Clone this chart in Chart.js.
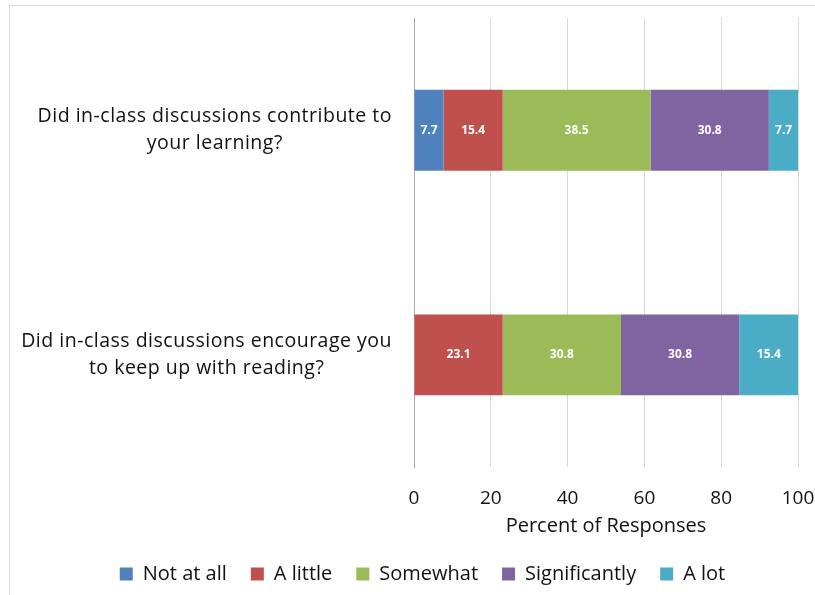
<!DOCTYPE html>
<html>
<head>
<meta charset="utf-8">
<script src="https://cdn.jsdelivr.net/npm/chart.js@4/dist/chart.umd.min.js"></script>
<style>
  html, body { margin: 0; padding: 0; background: #fff; overflow: hidden; }
  #wrap { position: relative; width: 815px; height: 595px; }
  #frame { position: absolute; left: 9px; top: 5px; width: 900px; height: 700px; border: 1px solid #d9d9d9; box-sizing: border-box; pointer-events: none; }
  canvas { position: absolute; left: 0; top: 0; }
</style>
</head>
<body>
<div id="wrap">
  <canvas id="chart" width="815" height="595"></canvas>
  <div id="frame"></div>
</div>
<script>
// Survey questions (each split into its display lines)
const questions = [
  ["Did in-class discussions contribute to", "your learning?"],
  ["Did in-class discussions encourage you", "to keep up with reading?"]
];

// Response levels and their colours
const levels = ["Not at all", "A little", "Somewhat", "Significantly", "A lot"];
const levelColors = ["#4F81BD", "#C0504D", "#9BBB59", "#8064A2", "#4BACC6"];

// Percent of responses per level, one value per question
const notAtAll      = [7.7, 0];
const aLittle       = [15.4, 23.1];
const somewhat      = [38.5, 30.8];
const significantly = [30.8, 30.8];
const aLot          = [7.7, 15.4];

// Axis ticks for the percent scale
const percentTicks = [0, 20, 40, 60, 80, 100];

const seriesValues = [notAtAll, aLittle, somewhat, significantly, aLot];
const FONT = "'Open Sans', sans-serif";
const TEXT = "#111111";

// Multi-line question labels: lines centred within a right-aligned block
const questionLabels = {
  id: "questionLabels",
  afterDraw(chart) {
    const y = chart.scales.y;
    const ctx = chart.ctx;
    const rightEdge = chart.chartArea.left - 22;
    const lineH = 27;
    ctx.save();
    ctx.font = "19.5px " + FONT;
    if ("letterSpacing" in ctx) ctx.letterSpacing = "0.5px";
    ctx.fillStyle = TEXT;
    ctx.textAlign = "center";
    ctx.textBaseline = "middle";
    questions.forEach((lines, i) => {
      const cy = y.getPixelForValue(i);
      const widest = Math.max(...lines.map(l => ctx.measureText(l).width));
      const cx = rightEdge - widest / 2;
      lines.forEach((line, k) => {
        ctx.fillText(line, cx, cy + (k - (lines.length - 1) / 2) * lineH);
      });
    });
    ctx.restore();
  }
};

// Value labels inside each bar segment
const segmentLabels = {
  id: "segmentLabels",
  afterDatasetsDraw(chart) {
    const ctx = chart.ctx;
    ctx.save();
    ctx.font = "bold 12px " + FONT;
    ctx.fillStyle = "#ffffff";
    ctx.textAlign = "center";
    ctx.textBaseline = "middle";
    chart.data.datasets.forEach((ds, di) => {
      const meta = chart.getDatasetMeta(di);
      meta.data.forEach((el, i) => {
        const v = ds.data[i];
        if (!v) return;
        ctx.fillText(v.toFixed(1), (el.x + el.base) / 2, el.y);
      });
    });
    ctx.restore();
  }
};

new Chart(document.getElementById("chart"), {
  type: "bar",
  data: {
    labels: questions,
    datasets: levels.map((name, i) => ({
      label: name,
      data: seriesValues[i],
      backgroundColor: levelColors[i],
      borderWidth: 0,
      barPercentage: 0.72,
      categoryPercentage: 0.5
    }))
  },
  options: {
    indexAxis: "y",
    responsive: false,
    animation: false,
    layout: { padding: { top: 18, right: 17, bottom: 1, left: 47 } },
    scales: {
      x: {
        stacked: true,
        min: 0,
        max: 100,
        afterBuildTicks(scale) { scale.ticks = percentTicks.map(v => ({ value: v })); },
        grid: { color: "#d9d9d9", lineWidth: 1, drawTicks: true, tickLength: 20, tickColor: "rgba(0,0,0,0)" },
        border: { display: false },
        ticks: { color: TEXT, font: { family: FONT, size: 19 }, padding: 0 },
        title: { display: true, text: "Percent of Responses", color: TEXT, font: { family: FONT, size: 20 }, padding: { top: 4, bottom: 2 } }
      },
      y: {
        stacked: true,
        grid: { display: false, drawTicks: false },
        border: { display: true, color: "#a6a6a6", width: 1 },
        ticks: { display: false },
        afterFit(scale) { scale.width = 367; }
      }
    },
    plugins: {
      legend: {
        position: "bottom",
        labels: {
          color: TEXT,
          font: { family: FONT, size: 20 },
          boxWidth: 13,
          boxHeight: 13,
          padding: 24
        }
      },
      tooltip: { enabled: false }
    }
  },
  plugins: [questionLabels, segmentLabels]
});
</script>
</body>
</html>
